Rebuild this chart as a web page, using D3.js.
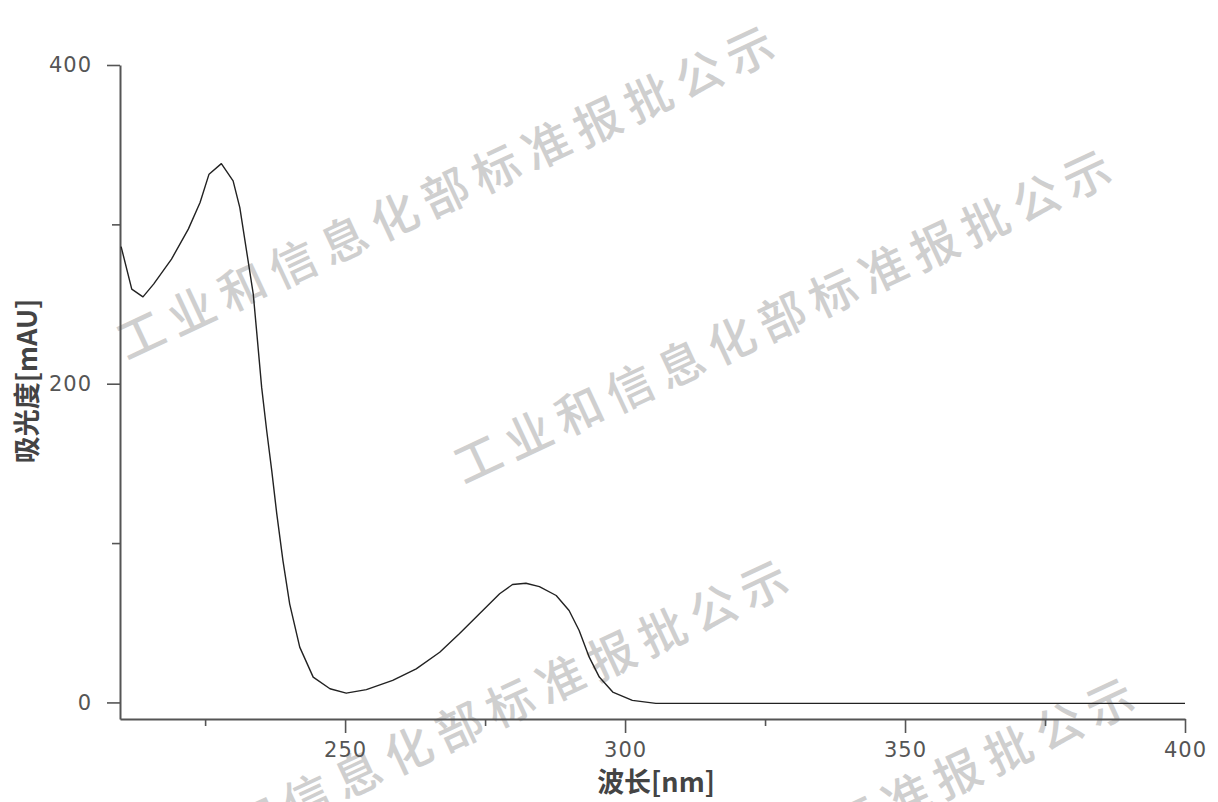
<!DOCTYPE html>
<html>
<head>
<meta charset="utf-8">
<script src="https://cdn.jsdelivr.net/npm/d3@7/dist/d3.min.js"></script>
<style>
  html, body { margin: 0; padding: 0; background: #fff; }
  svg { display: block; }
</style>
</head>
<body>
<svg id="chart" width="1218" height="802"></svg>
<script>
// UV absorbance spectrum: wavelength (nm) vs absorbance (mAU)
const wavelength = [
  210.0, 211.9, 213.9, 215.8, 219.0, 222.0, 224.1, 225.7, 227.9, 230.0,
  231.2, 232.4, 233.6, 234.2, 235.1, 236.0, 236.9, 237.8, 238.9, 240.1,
  241.9, 244.3, 247.3, 250.2, 253.8, 258.5, 262.7, 266.9, 270.4, 274.0,
  277.6, 279.9, 282.3, 284.7, 287.7, 290.0, 291.8, 293.6, 295.4, 297.8,
  301.3, 305.5, 320.0, 340.0, 360.0, 380.0, 400.0
];
const absorbance = [
  286.0, 259.4, 254.5, 262.5, 278.2, 297.0, 313.7, 331.5, 338.1, 327.3,
  310.5, 283.4, 256.2, 233.0, 197.7, 170.5, 145.5, 118.3, 89.0, 61.9,
  34.7, 15.9, 8.6, 5.8, 8.0, 13.8, 21.1, 31.5, 43.1, 55.6,
  68.2, 74.0, 74.8, 72.7, 67.1, 57.7, 45.1, 28.4, 15.9, 6.5,
  1.3, -0.6, -0.6, -0.6, -0.6, -0.6, -0.6
];

const xTicks = [250, 300, 350, 400];
const xMinorTicks = [225, 275, 325, 375];
const yTicks = [0, 200, 400];
const yMinorTicks = [100, 300];

const xTitle = "波长[nm]";
const yTitle = "吸光度[mAU]";
const stampText = "工业和信息化部标准报批公示";

const svg = d3.select("#chart");

const x = d3.scaleLinear().domain([209.8, 400]).range([120, 1185]);
const y = d3.scaleLinear().domain([-10.4, 400]).range([719, 65]);

const axisColor = "#555";
const tickFont = "'DejaVu Sans', Verdana, sans-serif";
const titleFont = "'Noto Sans CJK SC', 'Liberation Sans', sans-serif";

// background stamp text, repeated diagonally
const stamps = [
  { cx: 448, cy: 188 },
  { cx: 785, cy: 312 },
  { cx: 462, cy: 722 },
  { cx: 808, cy: 840 }
];
svg.append("g")
  .selectAll("text")
  .data(stamps)
  .join("text")
  .attr("transform", d => `translate(${d.cx},${d.cy}) rotate(-25)`)
  .attr("text-anchor", "middle")
  .attr("dominant-baseline", "central")
  .attr("font-family", titleFont)
  .attr("font-weight", 500)
  .attr("font-size", 47)
  .attr("letter-spacing", 9)
  .attr("fill", "#cfcfcf")
  .text(stampText);

// x axis
const gx = svg.append("g").attr("transform", `translate(0,${y.range()[0]})`);
gx.call(d3.axisBottom(x).tickValues(xTicks).tickSize(14).tickSizeOuter(0).tickPadding(9).tickFormat(d3.format("d")));
const gxm = svg.append("g").attr("transform", `translate(0,${y.range()[0]})`);
gxm.call(d3.axisBottom(x).tickValues(xMinorTicks).tickSize(7).tickSizeOuter(0).tickFormat(""));
gxm.select(".domain").remove();

// y axis
const gy = svg.append("g").attr("transform", `translate(${x.range()[0]},0)`);
gy.call(d3.axisLeft(y).tickValues(yTicks).tickSize(13).tickSizeOuter(0).tickPadding(15).tickFormat(d3.format("d")));
const gym = svg.append("g").attr("transform", `translate(${x.range()[0]},0)`);
gym.call(d3.axisLeft(y).tickValues(yMinorTicks).tickSize(8).tickSizeOuter(0).tickFormat(""));
gym.select(".domain").remove();

svg.selectAll(".domain").attr("stroke", axisColor).attr("stroke-width", 2);
svg.selectAll(".tick line").attr("stroke", axisColor).attr("stroke-width", 1.6);
svg.selectAll(".tick text")
  .attr("font-family", tickFont)
  .attr("font-size", 21)
  .attr("letter-spacing", 1)
  .attr("fill", "#555");

// spectrum trace
const line = d3.line()
  .x((d, i) => x(wavelength[i]))
  .y(d => y(d))
  .curve(d3.curveLinear);
svg.append("path")
  .datum(absorbance)
  .attr("d", line)
  .attr("fill", "none")
  .attr("stroke", "#222")
  .attr("stroke-width", 1.4)
  .attr("stroke-linejoin", "round");

// axis titles
svg.append("text")
  .attr("x", 656)
  .attr("y", 792)
  .attr("text-anchor", "middle")
  .attr("font-family", titleFont)
  .attr("font-weight", "bold")
  .attr("font-size", 27)
  .attr("fill", "#444")
  .text(xTitle);

svg.append("text")
  .attr("transform", "translate(37,381) rotate(-90)")
  .attr("text-anchor", "middle")
  .attr("font-family", titleFont)
  .attr("font-weight", "bold")
  .attr("font-size", 27)
  .attr("fill", "#444")
  .text(yTitle);
</script>
</body>
</html>
